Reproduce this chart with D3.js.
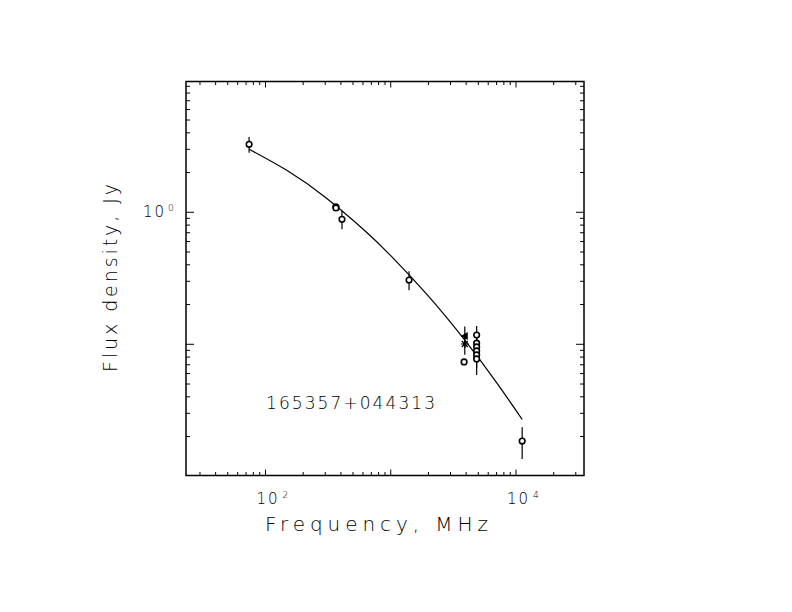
<!DOCTYPE html>
<html>
<head>
<meta charset="utf-8">
<script src="https://cdn.jsdelivr.net/npm/d3@7"></script>
<style>
  body { margin: 0; background: #fff; }
  text { font-family: "DejaVu Sans", sans-serif; fill: #000; }
</style>
</head>
<body>
<svg id="chart" width="792" height="612"></svg>
<script>
var svg = d3.select("#chart")

// measured points (frequency MHz, flux Jy, error Jy, symbol)
var freqs   = [74, 365, 365, 408, 1400, 3900, 3900, 3850, 4850, 4850, 4850, 4850, 4850, 4850, 11200]
var fluxes  = [3.27, 1.10, 1.08, 0.885, 0.307, 0.1156, 0.1005, 0.0735, 0.1175, 0.102, 0.0955, 0.089, 0.083, 0.0775, 0.0185]
var errors  = [0.45, 0.03, 0.03, 0.14, 0.05, 0.021, 0.017, 0.003, 0.02, 0.016, 0.016, 0.016, 0.017, 0.019, 0.005]
var symbols = ["circle", "circle", "circle", "circle", "circle", "triangle", "star", "circle",
               "circle", "circle", "circle", "circle", "circle", "circle", "circle"]

// fitted spectrum
var fitFreqs  = [74, 150, 300, 600, 1000, 2000, 4000, 7000, 11200]
var fitFluxes = [3.00, 2.06, 1.30, 0.747, 0.470, 0.2314, 0.1042, 0.0512, 0.02694]

var xTickLabels = [{v: 100, p: "2"}, {v: 10000, p: "4"}]
var yTickLabels = [{v: 1, p: "0"}]

var boxL = 186, boxR = 584, boxT = 81.5, boxB = 475.5

var x = d3.scaleLog().domain([23.2, 34900]).range([boxL, boxR])
var y = d3.scaleLog().domain([0.01014, 9.79]).range([boxB, boxT])

// frame
svg.append("rect")
    .attr("x", boxL).attr("y", boxT)
    .attr("width", boxR - boxL).attr("height", boxB - boxT)
    .attr("fill", "none").attr("stroke", "#000").attr("stroke-width", 1.5)

function logTicks(domain) {
    var t = []
    for (var e = -3; e <= 5; e++) {
        for (var m = 1; m <= 9; m++) {
            var v = m * Math.pow(10, e)
            if (v >= domain[0] && v <= domain[1]) t.push({v: v, major: m === 1})
        }
    }
    return t
}

var xt = logTicks(x.domain())
var yt = logTicks(y.domain())

// x ticks, bottom and top, pointing inwards
svg.selectAll("xb").data(xt).enter().append("line")
    .attr("x1", function(d){ return x(d.v) }).attr("x2", function(d){ return x(d.v) })
    .attr("y1", boxB).attr("y2", function(d){ return boxB - (d.major ? 6 : 3.5) })
    .attr("stroke", "#000")
svg.selectAll("xtop").data(xt).enter().append("line")
    .attr("x1", function(d){ return x(d.v) }).attr("x2", function(d){ return x(d.v) })
    .attr("y1", boxT).attr("y2", function(d){ return boxT + (d.major ? 6 : 3.5) })
    .attr("stroke", "#000")

// y ticks, left and right
svg.selectAll("yl").data(yt).enter().append("line")
    .attr("y1", function(d){ return y(d.v) }).attr("y2", function(d){ return y(d.v) })
    .attr("x1", boxL).attr("x2", function(d){ return boxL + (d.major ? 8 : 4) })
    .attr("stroke", "#000")
svg.selectAll("yr").data(yt).enter().append("line")
    .attr("y1", function(d){ return y(d.v) }).attr("y2", function(d){ return y(d.v) })
    .attr("x1", boxR).attr("x2", function(d){ return boxR - (d.major ? 8 : 4) })
    .attr("stroke", "#000")

// tick labels 10^n
var xl = svg.selectAll("xlab").data(xTickLabels).enter().append("text")
    .attr("x", function(d){ return x(d.v) - 9 })
    .attr("y", 504)
    .style("font-size", "15px")
    .style("font-weight", "200")
    .style("letter-spacing", "2px")
xl.append("tspan").text("10")
xl.append("tspan").attr("dx", 3).attr("dy", -6).style("font-size", "9px").text(function(d){ return d.p })

var yl = svg.selectAll("ylab").data(yTickLabels).enter().append("text")
    .attr("x", 143)
    .attr("y", function(d){ return y(d.v) + 5 })
    .style("font-size", "15px")
    .style("font-weight", "200")
    .style("letter-spacing", "2px")
yl.append("tspan").text("10")
yl.append("tspan").attr("dx", 2).attr("dy", -6).style("font-size", "9px").text(function(d){ return d.p })

// axis titles
svg.append("text")
    .attr("x", 265).attr("y", 531)
    .attr("textLength", 223).attr("lengthAdjust", "spacing")
    .style("font-size", "20px").style("font-weight", "200")
    .text("Frequency, MHz")

svg.append("text")
    .attr("transform", "translate(117,372) rotate(-90)")
    .attr("textLength", 188).attr("lengthAdjust", "spacing")
    .style("font-size", "19px").style("font-weight", "200")
    .text("Flux density, Jy")

svg.append("text")
    .attr("x", 266).attr("y", 409)
    .attr("textLength", 169).attr("lengthAdjust", "spacing")
    .style("font-size", "17px").style("font-weight", "200")
    .text("165357+044313")

// fit curve
var fit = fitFreqs.map(function(f, i){ return [f, fitFluxes[i]] })
svg.append("path")
    .datum(fit)
    .attr("fill", "none").attr("stroke", "#000").attr("stroke-width", 1.2)
    .attr("d", d3.line()
        .x(function(d){ return x(d[0]) })
        .y(function(d){ return y(d[1]) })
        .curve(d3.curveNatural))

var pts = freqs.map(function(f, i){
    return {f: f, s: fluxes[i], e: errors[i], sym: symbols[i]}
})

// error bars
svg.selectAll("err").data(pts).enter().append("line")
    .attr("x1", function(d){ return x(d.f) }).attr("x2", function(d){ return x(d.f) })
    .attr("y1", function(d){ return y(d.s + d.e) })
    .attr("y2", function(d){ return y(Math.max(d.s - d.e, 1e-4)) })
    .attr("stroke", "#000").attr("stroke-width", 1.2)

// markers
var g = svg.selectAll("pt").data(pts).enter().append("g")
    .attr("transform", function(d){ return "translate(" + x(d.f) + "," + y(d.s) + ")" })

g.filter(function(d){ return d.sym === "circle" }).append("circle")
    .attr("r", 2.8).attr("fill", "#fff").attr("stroke", "#000").attr("stroke-width", 1.6)

g.filter(function(d){ return d.sym === "triangle" }).append("path")
    .attr("d", "M-4,0L3,-4L3,4Z").attr("fill", "#000")

g.filter(function(d){ return d.sym === "star" }).append("path")
    .attr("d", "M-4,0H4M0,-4V4M-3,-3L3,3M-3,3L3,-3")
    .attr("stroke", "#000").attr("stroke-width", 1.2)
</script>
</body>
</html>
